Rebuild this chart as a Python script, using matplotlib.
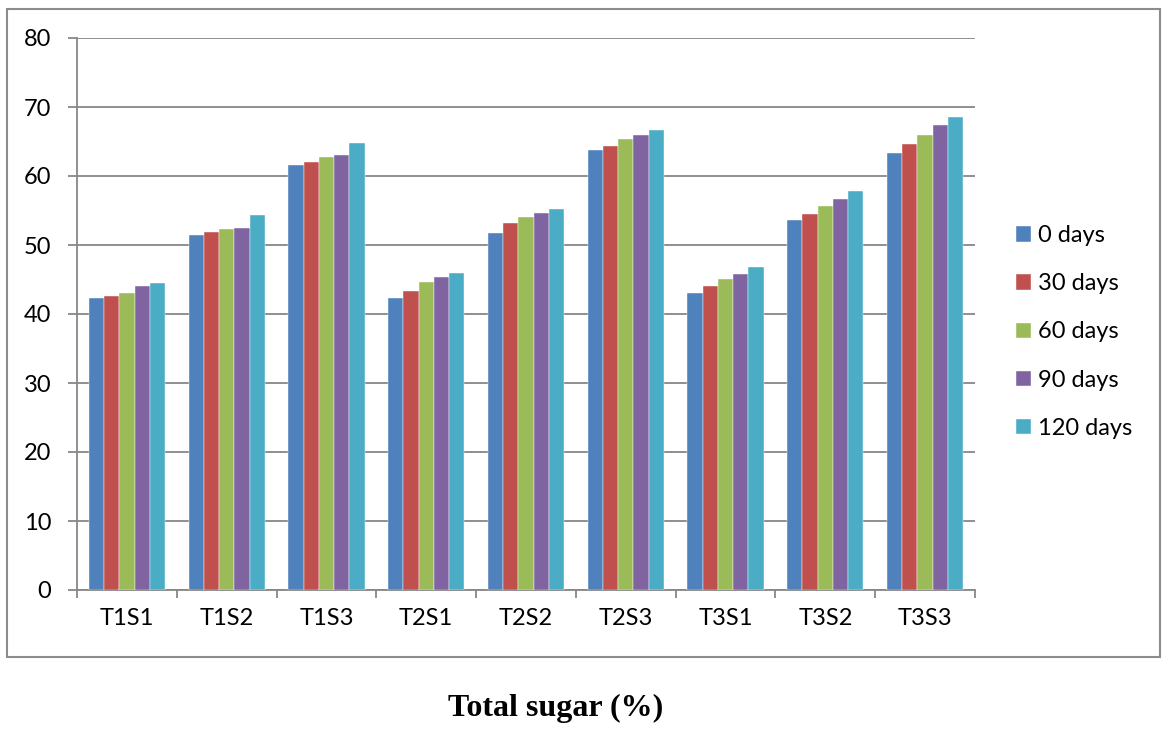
import matplotlib
matplotlib.use("Agg")
import matplotlib.pyplot as plt
from matplotlib.patches import Rectangle
import numpy as np

categories = ["T1S1", "T1S2", "T1S3", "T2S1", "T2S2", "T2S3", "T3S1", "T3S2", "T3S3"]
series_labels = ["0 days", "30 days", "60 days", "90 days", "120 days"]

days_0 = [42.3, 51.5, 61.6, 42.3, 51.8, 63.8, 43.1, 53.6, 63.3]
days_30 = [42.6, 51.9, 62.0, 43.3, 53.2, 64.3, 44.0, 54.5, 64.6]
days_60 = [43.1, 52.3, 62.8, 44.6, 54.0, 65.3, 45.1, 55.7, 66.0]
days_90 = [44.0, 52.5, 63.1, 45.3, 54.6, 66.0, 45.8, 56.6, 67.4]
days_120 = [44.5, 54.3, 64.8, 46.0, 55.2, 66.7, 46.8, 57.8, 68.5]

colors = ["#4F81BD", "#C0504D", "#9BBB59", "#8064A2", "#4BACC6"]

W, H = 1163, 729
fig = plt.figure(figsize=(W / 100, H / 100), dpi=100)
plt.rcParams['font.family'] = ['Lato', 'DejaVu Sans']
FS = 17

# outer chart border
fig.patches.append(Rectangle((7 / W, 1 - 657 / H), (1160 - 7) / W, (657 - 9) / H,
                             transform=fig.transFigure, fill=False,
                             edgecolor="#8c8c8c", linewidth=1.5))

ax = fig.add_axes([77 / W, 1 - 590 / H, (975 - 77) / W, (590 - 38) / H])

x = np.arange(len(categories))
bw = 0.153
all_series = [days_0, days_30, days_60, days_90, days_120]
handles = []
for i, vals in enumerate(all_series):
    b = ax.bar(x + (i - 2) * bw, vals, bw, color=colors[i], label=series_labels[i],
               edgecolor="white", linewidth=0.3, zorder=3)
    handles.append(b)

ax.set_xlim(-0.5, len(categories) - 0.5)
ax.set_ylim(0, 80)
ax.set_yticks(np.arange(0, 81, 10))
ax.yaxis.grid(True, color="#878787", linewidth=1.3, zorder=0)
ax.set_axisbelow(True)

ax.set_xticks(np.arange(-0.5, len(categories), 1))
ax.set_xticklabels([])
ax.set_xticks(x, minor=True)
ax.set_xticklabels(categories, minor=True)
ax.tick_params(axis="x", which="major", length=6, width=1.3, color="#878787", direction="out")
ax.tick_params(axis="x", which="minor", length=0, pad=13, labelsize=FS)
ax.tick_params(axis="y", length=6.5, width=1.3, color="#878787", direction="out", pad=12, labelsize=FS)

for s in ["top", "right"]:
    ax.spines[s].set_visible(False)
for s in ["left", "bottom"]:
    ax.spines[s].set_color("#878787")
    ax.spines[s].set_linewidth(1.3)

leg = fig.legend(handles=handles, loc="center left", bbox_to_anchor=(1009 / W, 1 - 332 / H),
                 frameon=False, fontsize=FS, handlelength=0.62, handleheight=0.62,
                 handletextpad=0.3, labelspacing=1.15, borderaxespad=0, borderpad=0.3)

fig.text(556 / W, 1 - 708 / H, "Total sugar (%)", ha="center", va="center",
         fontsize=23, fontweight="bold", family="Liberation Serif")

fig.savefig("out.png", dpi=100)
